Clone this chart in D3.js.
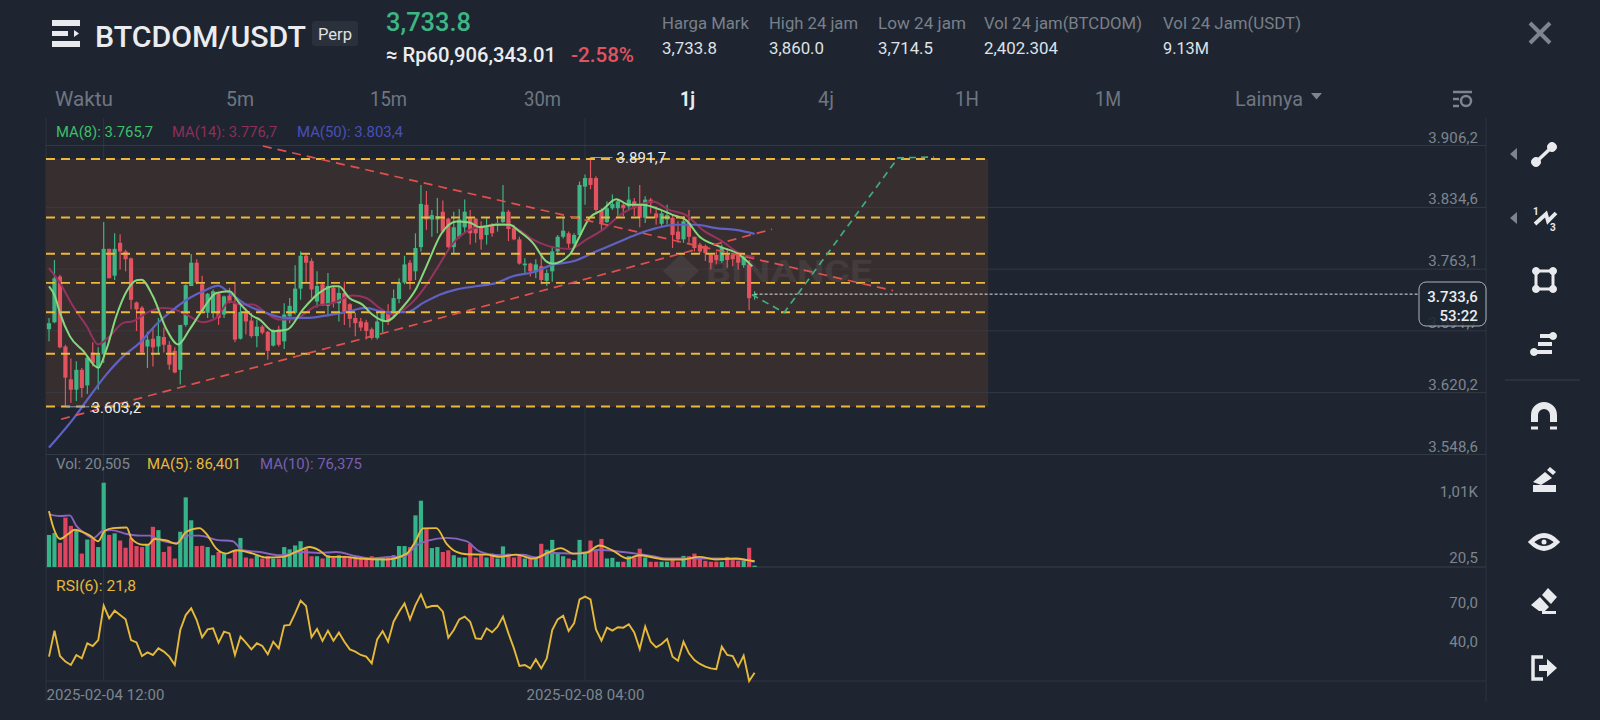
<!DOCTYPE html>
<html>
<head>
<meta charset="utf-8">
<title>BTCDOM/USDT</title>
<script src="https://cdn.jsdelivr.net/npm/d3@7"></script>
<style>
  html, body { margin: 0; padding: 0; background: #1e2530; overflow: hidden; }
  text { font-family: Roboto, "Noto Sans", sans-serif; }
  .domain { display: none; }
</style>
</head>
<body>
<div id="chart"></div>
<script>
// candles, hourly
var opens = [
  3693,3701,3754,3673,3635,3623,3646,3628,3666,3648,
  3664,3786,3755,3793,3783,3775,3724,3718,3673,3682,
  3673,3684,3675,3668,3646,3698,3743,3770,3745,3712,
  3712,3734,3710,3732,3723,3682,3712,3703,3685,3696,
  3690,3674,3693,3679,3708,3712,3740,3778,3772,3725,
  3745,3720,3741,3723,3735,3722,3706,3702,3701,3693,
  3683,3702,3712,3712,3728,3747,3770,3760,3788,3837,
  3820,3820,3829,3821,3788,3800,3811,3822,3821,3811,
  3802,3813,3813,3817,3829,3810,3797,3767,3769,3759,
  3766,3749,3760,3783,3800,3804,3792,3802,3858,3868,
  3868,3831,3817,3833,3833,3837,3835,3841,3837,3822,
  3843,3827,3815,3820,3822,3806,3797,3816,3800,3791,
  3789,3779,3779,3772,3779,3779,3779,3767,3768,3732];
var closes = [
  3700,3752,3672,3637,3623,3646,3625,3660,3654,3664,
  3786,3752,3786,3783,3774,3727,3716,3666,3681,3672,
  3685,3675,3652,3643,3698,3744,3770,3747,3714,3734,
  3737,3706,3731,3724,3681,3713,3702,3685,3696,3689,
  3668,3691,3675,3710,3720,3740,3778,3770,3739,3743,
  3720,3743,3723,3735,3712,3705,3700,3695,3691,3683,
  3702,3712,3702,3729,3747,3768,3749,3787,3838,3820,
  3825,3824,3806,3788,3811,3820,3829,3804,3804,3797,
  3811,3804,3816,3829,3809,3797,3769,3769,3760,3768,
  3750,3758,3783,3800,3807,3792,3802,3860,3868,3860,
  3831,3816,3833,3838,3841,3833,3843,3833,3822,3843,
  3839,3822,3827,3825,3802,3797,3818,3800,3787,3783,
  3781,3770,3773,3787,3773,3774,3770,3777,3729,3733.6];
var highs = [
  3706,3773,3756,3675,3659,3656,3648,3662,3678,3672,
  3817,3786,3804,3803,3785,3776,3725,3720,3690,3695,
  3706,3695,3679,3672,3698,3745,3780,3774,3755,3735,
  3739,3735,3732,3741,3748,3720,3717,3712,3704,3698,
  3691,3693,3697,3723,3729,3767,3783,3781,3775,3760,
  3747,3758,3743,3743,3748,3723,3712,3706,3704,3695,
  3712,3714,3722,3739,3752,3778,3773,3804,3860,3853,
  3831,3845,3842,3822,3829,3832,3843,3831,3822,3818,
  3822,3816,3824,3860,3831,3814,3800,3775,3770,3774,
  3779,3762,3789,3802,3822,3806,3804,3864,3872,3891.7,
  3870,3833,3841,3849,3843,3839,3858,3845,3860,3847,
  3845,3835,3831,3837,3825,3818,3824,3831,3800,3793,
  3791,3781,3783,3791,3787,3781,3781,3781,3773,3737];
var lows = [
  3679,3700,3671,3603.2,3608,3610,3614,3618,3650,3623,
  3654,3752,3750,3762,3760,3716,3691,3665,3648,3650,
  3665,3666,3646,3642,3629,3696,3743,3745,3712,3706,
  3706,3698,3706,3723,3678,3681,3687,3683,3672,3687,
  3658,3673,3673,3670,3700,3710,3727,3747,3729,3718,
  3720,3708,3718,3702,3698,3695,3685,3691,3681,3681,
  3681,3689,3698,3708,3723,3745,3739,3750,3783,3808,
  3800,3804,3804,3787,3781,3798,3804,3791,3793,3785,
  3791,3800,3806,3816,3795,3796,3768,3758,3754,3752,
  3745,3743,3748,3779,3798,3787,3787,3802,3837,3855,
  3829,3806,3816,3831,3822,3824,3831,3824,3811,3816,
  3827,3814,3812,3814,3787,3793,3793,3793,3783,3781,
  3772,3762,3768,3770,3764,3766,3762,3764,3715,3727];
var volumes = [
  476,505,359,733,611,539,199,408,432,296,
  1252,476,500,393,286,432,311,296,330,597,
  548,223,306,126,524,1034,694,311,315,296,
  175,223,199,126,248,432,141,126,175,126,
  160,126,126,296,262,320,383,272,160,160,
  126,175,141,175,150,150,126,126,141,160,
  141,141,141,175,311,311,296,767,985,563,
  281,296,223,248,175,141,141,345,141,175,
  141,199,126,306,199,141,175,126,126,126,
  345,257,403,199,160,126,102,403,199,393,
  238,417,126,136,78,78,160,141,272,141,
  78,78,78,78,102,78,165,160,199,126,
  92,78,78,78,150,102,92,92,286,20.5];
var rsi = [
  34.1,54.1,34.6,30.3,27.7,35.4,32.8,44.4,42.3,46.9,
  73.3,63.6,69.5,66.1,62.8,46.9,45.1,34.6,37.4,35.4,
  40.5,38,34.1,27.7,54.6,66.1,71.3,62.3,49,55.1,
  55.9,44.9,53.3,52,35.4,49.5,44.9,39.7,44.4,42.3,
  35.9,45.6,40.5,58,58.5,67.4,77.2,73.1,49,55.4,
  46.2,54.1,46.4,52.6,45.6,39.7,38,35.4,34.1,29,
  47.4,53.8,45.6,61,68.7,75.1,62.8,73.8,82,71.8,
  73.1,73.3,68.7,48.7,54.6,62.8,64.9,61,48.2,47.7,
  55.9,52.8,57.2,64.9,52,40.5,26.9,27.7,25.1,32,
  25.1,32.8,54.6,62.8,65.6,53.8,59.7,78.2,80.3,78.2,
  55.1,46.4,56.4,54.1,56.7,56.4,59,52.8,40,57.2,
  45.6,41.3,43.8,47.7,34.1,31,45.6,36.7,31.5,28.5,
  26.4,25.1,24.4,41.8,35.4,34.6,26.4,34.9,15.4,21.8];

// moving averages, read at the turning points: candle position, then value
var ma8Pos = [0,1.1,2,3.8,6.3,9,10.5,12.3,14.2,16,16.9,19,21.5,23.6,25.7,28.1,30.6,33,34.8,37.3,38.5,41,43.6,46.4,49.4,51.9,53,54.9,57.3,59.1,61.6,64.8,67.2,69,71.8,74.5,76.9,78.7,81.8,84.2,86,88.5,90.9,92.1,95.2,97,98.8,101.2,103.7,106.1,108.5,111,114,116.4,118.9,122.5,126.2,128.6];
var ma8Val = [3742.7,3731.1,3711.9,3685,3667.7,3648.4,3669.6,3708,3736.9,3749.6,3750.4,3731.1,3692.7,3675.4,3692.7,3715.7,3735,3736.9,3723.4,3708,3704.2,3690.7,3692.7,3715.7,3735,3742.7,3742.7,3729.2,3721.5,3710,3702.3,3719.6,3740.8,3765.8,3804.3,3817.7,3816.6,3811.2,3813.9,3813.9,3806.2,3792.7,3771.6,3768.9,3779.3,3800.4,3821.6,3831.2,3843.5,3837,3837,3833.1,3825.4,3819.7,3800.4,3788.9,3779.3,3765.7];
var ma14Pos = [0,2,4.4,6.9,9,10.8,13.6,15.4,17.8,20.9,22.7,25.1,28.1,30.6,33,34.8,37.3,39.7,42.1,44.6,48.8,51.9,55.5,58,60.4,62.8,66,68.4,70.8,73.9,76.9,80,83,85.4,88.5,91.5,95.2,98.2,101.2,104.9,108,110.4,113.4,116.4,119.5,123.1,126.2,129];
var ma14Val = [3763.8,3746.5,3719.6,3696.5,3675.4,3683,3700.4,3702.3,3711.9,3717.7,3716.5,3710,3701.1,3706.1,3725.4,3721.5,3721.5,3711.9,3704.2,3704.2,3719.6,3723.4,3731.9,3729.2,3717.7,3710,3721.6,3738.9,3762,3792.7,3808,3812.7,3815,3810,3796.6,3788.9,3785.8,3796.6,3808,3827.4,3837,3840.8,3831.2,3825.4,3808,3794.7,3781,3776.7];
var ma50Pos = [0,4.4,7.5,10.5,13.6,16.6,19.6,22.7,25.7,28.8,30.9,33,36,39.7,43.3,47,50.6,54.3,57.9,61.6,65.4,68.4,71.4,74.4,78,81.8,84.8,88.5,92.1,95.8,100,103.7,107.3,111,114.6,118.3,122,125.6,129];
var ma50Val = [3556,3589,3615.7,3640.7,3661.9,3677.3,3698.4,3715.7,3729.2,3738.8,3743.4,3735,3721.5,3711.9,3706.1,3706.1,3708.8,3712.7,3717.7,3712.7,3712.7,3723.5,3733,3738.9,3742.7,3746.6,3754.3,3758.9,3767.7,3771.6,3783,3792.7,3802.4,3810,3813.9,3813.9,3810,3808,3803.4];
var volMa5Pos = [0,0.8,2,3.5,4.7,6.3,7.5,9,10.2,11.7,14.2,15.1,17.2,18.1,19.3,21.5,23.3,25.1,27.5,28.8,30.6,32.4,34.2,37.3,39.7,42.7,45.8,47.6,49.4,51.2,54.3,56.7,61.6,65.4,66.9,68.4,70.8,72.7,74.5,76.3,80,82.4,85.4,88.5,91.5,93.6,95.8,98.2,100.6,103,105.8,107.9,110.4,112.8,115.8,118.9,121.9,125.6,127.7,129];
var volMa5Val = [830,587,417,490,553,514,466,383,539,578,587,417,330,330,417,393,345,524,578,490,272,199,248,199,141,150,248,296,248,150,150,126,112,199,369,573,578,345,223,189,184,150,184,126,223,281,199,209,320,248,126,175,141,112,112,150,112,126,102,86.4];
var volMa10Pos = [0,2,3.8,5,6.3,8.1,9.9,11.4,14.2,16.6,18.4,20.2,23.3,25.1,27.5,30.6,33.6,35.4,38.5,42.1,46.4,49.4,52.5,56.2,59.1,62.2,64.8,67.2,69.3,72.7,76.3,78.7,82.4,86.6,89.1,92.1,96.4,100.6,104.9,107.3,110.4,112.8,117,121.9,126.8,129];
var volMa10Val = [781,757,767,611,514,432,539,548,490,466,466,403,354,466,466,403,383,248,223,175,223,209,223,160,126,150,150,320,393,432,383,233,175,184,141,209,199,257,223,199,160,126,126,126,112,76.4];

// levels and drawings placed on the chart
var levelPrices = [3890, 3822.3, 3780.4, 3746.6, 3712.7, 3664.6, 3603.5];
var trendDown = [[39.1, 3905], [154.3, 3737.7]];
var trendUp = [[2.2, 3588.8], [132.2, 3808.7]];
var projection = [[128.5, 3733], [134.4, 3712.3], [155.2, 3891.2], [161.8, 3892.3]];
var levelBoxPos = [-0.5, 171.7];
var lastPrice = 3733.6;

// axis labels
var priceTicks = [3906.2, 3834.6, 3763.1, 3691.7, 3620.2, 3548.6];
var volTicks = [1010, 20.5];
var volTickLabels = ["1,01K", "20,5"];
var rsiTicks = [70, 40];
var timeTickPos = [10, 98];
var timeLabels = ["2025-02-04 12:00", "2025-02-08 04:00"];

var tabLabels = ["Waktu", "5m", "15m", "30m", "1j", "4j", "1H", "1M", "Lainnya"];
var tabX = [55, 226, 370, 524, 680, 818, 955, 1095, 1235];
var tabW = [58, 28, 37, 37, 15, 16, 24, 26, 68];
var statNames = ["Harga Mark", "High 24 jam", "Low 24 jam", "Vol 24 jam(BTCDOM)", "Vol 24 Jam(USDT)"];
var statNameW = [87, 89, 88, 158, 138];
var statValues = ["3,733.8", "3,860.0", "3,714.5", "2,402.304", "9.13M"];
var statValueW = [55, 55, 55, 74, 46];
var statX = [662, 769, 878, 984, 1163];

var width = 1600;
var height = 720;
var plotLeft = 46;
var plotRight = 1486;
var green = "#3db585";
var red = "#e2535f";
var gridColor = "#2d343f";
var labelColor = "#7d8590";
var iconColor = "#e8eaed";

var svg = d3.select("#chart")
  .append("svg")
  .attr("width", width)
  .attr("height", height)
  .style("display", "block");

svg.append("rect").attr("width", width).attr("height", height).attr("fill", "#1e2530");

var comma = d3.formatLocale({ decimal: ",", thousands: ".", grouping: [3], currency: ["", ""] }).format(",.1f");

// scales
var x = d3.scaleLinear().domain([0, 129]).range([49, 754.6]);
var y = d3.scaleLinear().domain([3906.2, 3548.6]).range([145, 454]);
var yVol = d3.scaleLinear().domain([0, 1010]).range([567, 499]);
var yRsi = d3.scaleLinear().domain([70, 40]).range([610, 649]);

function addText(tx, ty, str, size, color, weight, anchor, len) {
  var t = svg.append("text")
    .attr("x", tx).attr("y", ty)
    .attr("dy", "0.35em")
    .attr("font-size", size)
    .attr("fill", color)
    .attr("font-weight", weight || 400)
    .attr("text-anchor", anchor || "start")
    .text(str);
  if (len) t.attr("textLength", len).attr("lengthAdjust", "spacingAndGlyphs");
  return t;
}

// header
svg.append("g").attr("fill", iconColor).selectAll("path")
  .data(["M52 20h28v6H52z", "M52 31h16v5H52z", "M74 30l5 3.5-5 3.5z", "M52 41h28v6H52z"])
  .enter().append("path").attr("d", function(d) { return d; });
addText(95, 37, "BTCDOM/USDT", 29, "#eaecef", 500, "start", 211);
svg.append("rect").attr("x", 312).attr("y", 21).attr("width", 46).attr("height", 25).attr("rx", 3).attr("fill", "#2b313b");
addText(335, 34, "Perp", 17, "#dfe2e6", 400, "middle", 34);
addText(386, 22, "3,733.8", 26, green, 500, "start", 85);
addText(386, 55, "≈ Rp60,906,343.01", 21, "#eaecef", 500, "start", 170);
addText(571, 55, "-2.58%", 21, red, 500, "start", 63);

statNames.forEach(function(name, i) {
  addText(statX[i], 23, name, 17, "#79808a", 400, "start", statNameW[i]);
  addText(statX[i], 48, statValues[i], 16, "#dfe2e6", 400, "start", statValueW[i]);
});

// close icon
svg.append("path").attr("d", "M1530 23l20 20M1550 23l-20 20").attr("stroke", "#7d8590").attr("stroke-width", 4).attr("fill", "none");

tabLabels.forEach(function(name, i) {
  addText(tabX[i], 99, name, 20, i === 4 ? "#eaecef" : "#6f7681", i === 4 ? 700 : 400, "start", tabW[i]);
});
svg.append("path").attr("d", "M1311 93h11l-5.5 6.5z").attr("fill", "#7d8590");
svg.append("g").attr("stroke", "#7d8590").attr("stroke-width", 2.5).attr("fill", "none")
  .call(function(g) {
    g.append("path").attr("d", "M1453 92h19M1453 99h6M1453 106h6");
    g.append("circle").attr("cx", 1466).attr("cy", 101).attr("r", 5);
  });

// frame and grid
var frame = svg.append("g").attr("stroke", gridColor).attr("fill", "none");
frame.append("line").attr("x1", plotLeft).attr("x2", plotLeft).attr("y1", 118).attr("y2", 702);
frame.append("line").attr("x1", plotRight).attr("x2", plotRight).attr("y1", 118).attr("y2", 702);
frame.selectAll(".vgrid").data(timeTickPos).enter().append("line")
  .attr("class", "vgrid")
  .attr("x1", function(d) { return x(d); }).attr("x2", function(d) { return x(d); })
  .attr("y1", 118).attr("y2", 681);
frame.append("line").attr("x1", plotLeft).attr("x2", plotRight).attr("y1", 681).attr("y2", 681);

// box behind the levels
svg.append("rect")
  .attr("x", plotLeft)
  .attr("y", y(levelPrices[0]))
  .attr("width", x(levelBoxPos[1]) - plotLeft)
  .attr("height", y(levelPrices[6]) - y(levelPrices[0]))
  .attr("fill", "#372e2f");

function axisFont(g) {
  g.attr("font-size", 15)
    .attr("font-family", "Roboto")
    .attr("letter-spacing", 0.1)
    .attr("fill", labelColor);
}

// price axis
var yAxis = d3.axisRight(y)
  .tickValues(priceTicks)
  .tickSize(plotRight - plotLeft)
  .tickFormat(comma);
svg.append("g")
  .attr("transform", "translate(" + plotLeft + ",0)")
  .call(yAxis)
  .call(function(g) {
    g.selectAll("line").attr("stroke", "#3a4049").attr("stroke-opacity", 0.75);
    g.selectAll("text")
      .attr("x", plotRight - plotLeft - 8)
      .attr("dy", "-0.2em")
      .attr("text-anchor", "end")
      .call(axisFont);
  });

// lower panels
svg.append("line").attr("x1", plotLeft).attr("x2", plotRight).attr("y1", 567).attr("y2", 567).attr("stroke", "#3a4049");
function sideAxis(scale, ticks, fmt) {
  svg.append("g")
    .attr("transform", "translate(" + (plotRight - 8) + ",0)")
    .call(d3.axisLeft(scale).tickValues(ticks).tickSize(0).tickFormat(fmt))
    .call(function(g) {
      g.selectAll("text")
        .attr("x", 0)
        .attr("dy", "-0.2em")
        .attr("text-anchor", "end")
        .call(axisFont);
    });
}
sideAxis(yVol, volTicks, function(d, i) { return volTickLabels[i]; });
sideAxis(yRsi, rsiTicks, comma);

// time axis
svg.append("g")
  .attr("transform", "translate(0,681)")
  .call(d3.axisBottom(x).tickValues(timeTickPos).tickSize(0).tickFormat(function(d, i) { return timeLabels[i]; }))
  .call(function(g) {
    g.selectAll("text")
      .attr("y", 14)
      .attr("dy", "0.35em")
      .attr("textLength", 118)
      .attr("lengthAdjust", "spacingAndGlyphs")
      .call(axisFont);
    g.selectAll("text").filter(function(d, i) { return i === 0; })
      .attr("text-anchor", "start")
      .attr("x", plotLeft - x(timeTickPos[0]));
  });

svg.append("defs").append("clipPath").attr("id", "plotClip")
  .append("rect").attr("x", plotLeft).attr("y", 118).attr("width", plotRight - plotLeft).attr("height", 336);

var main = svg.append("g").attr("clip-path", "url(#plotClip)");

// watermark
var wm = main.append("g").attr("fill", "#ffffff").attr("opacity", 0.06);
wm.append("path").attr("d", "M681 254l18 17-18 17-18-17z");
wm.append("text").attr("x", 706).attr("y", 282).attr("font-size", 32).attr("font-weight", 700)
  .attr("textLength", 166).attr("lengthAdjust", "spacingAndGlyphs").text("BINANCE");

// candles
var idx = d3.range(closes.length);
var candle = main.append("g").selectAll("g").data(idx).enter().append("g");
function candleColor(i) { return closes[i] >= opens[i] ? green : red; }
candle.append("line")
  .attr("x1", function(i) { return x(i); })
  .attr("x2", function(i) { return x(i); })
  .attr("y1", function(i) { return y(highs[i]); })
  .attr("y2", function(i) { return y(lows[i]); })
  .attr("stroke", candleColor)
  .attr("stroke-width", 1.2);
candle.append("rect")
  .attr("x", function(i) { return x(i) - 2.1; })
  .attr("width", 4.2)
  .attr("y", function(i) { return y(Math.max(opens[i], closes[i])); })
  .attr("height", function(i) { return Math.max(1, Math.abs(y(opens[i]) - y(closes[i]))); })
  .attr("fill", candleColor);

// moving averages
function smooth(yScale) {
  return d3.line()
    .x(function(d) { return x(d[0]); })
    .y(function(d) { return yScale(d[1]); })
    .curve(d3.curveMonotoneX);
}
function addLine(parent, pos, val, scale, color, w) {
  parent.append("path")
    .attr("d", smooth(scale)(d3.zip(pos, val)))
    .attr("fill", "none")
    .attr("stroke", color)
    .attr("stroke-width", w);
}
addLine(main, ma14Pos, ma14Val, y, "#96325f", 2);
addLine(main, ma50Pos, ma50Val, y, "#5f62c4", 2.2);
addLine(main, ma8Pos, ma8Val, y, "#86d87c", 2);

// dashed levels
main.selectAll(".level").data(levelPrices).enter().append("line")
  .attr("class", "level")
  .attr("x1", plotLeft)
  .attr("x2", x(levelBoxPos[1]))
  .attr("y1", function(d) { return y(d); })
  .attr("y2", function(d) { return y(d); })
  .attr("stroke", "#eab83a")
  .attr("stroke-width", 1.9)
  .attr("stroke-dasharray", "9 6");

// trend lines and projection
var straight = d3.line().x(function(d) { return x(d[0]); }).y(function(d) { return y(d[1]); });
[trendDown, trendUp].forEach(function(t) {
  main.append("path").attr("d", straight(t)).attr("fill", "none")
    .attr("stroke", "#e0504f").attr("stroke-width", 1.7).attr("stroke-dasharray", "9 6");
});
main.append("path").attr("d", straight(projection)).attr("fill", "none")
  .attr("stroke", "#3fae7c").attr("stroke-width", 1.7).attr("stroke-dasharray", "7 5");

// high and low notes
main.append("line").attr("x1", x(99)).attr("x2", x(99) + 22).attr("y1", y(3891.7)).attr("y2", y(3891.7)).attr("stroke", "#9aa0a8");
addText(x(99) + 26, y(3891.7) + 0.5, comma(3891.7), 15, "#eaecef").attr("letter-spacing", 0.1);
main.append("line").attr("x1", x(3)).attr("x2", x(3) + 24).attr("y1", y(3603.2)).attr("y2", y(3603.2)).attr("stroke", "#9aa0a8");
addText(x(3) + 26, y(3603.2) + 0.5, comma(3603.2), 15, "#eaecef").attr("letter-spacing", 0.1);

// volume bars
svg.append("g").selectAll("rect").data(volumes).enter().append("rect")
  .attr("x", function(d, i) { return x(i) - 2.1; })
  .attr("width", 4.2)
  .attr("y", function(d) { return yVol(d); })
  .attr("height", function(d) { return yVol(0) - yVol(d); })
  .attr("fill", function(d, i) { return closes[i] >= opens[i] ? "#35b389" : "#e0455f"; });
addLine(svg, volMa10Pos, volMa10Val, yVol, "#8a63c0", 1.9);
addLine(svg, volMa5Pos, volMa5Val, yVol, "#e9b93c", 1.9);

// rsi
svg.append("path")
  .attr("d", d3.line().x(function(d, i) { return x(i); }).y(function(d) { return yRsi(d); })(rsi))
  .attr("fill", "none")
  .attr("stroke", "#e6b93a")
  .attr("stroke-width", 1.9);

// legends
addText(56, 132, "MA(8): 3.765,7", 15, "#3fbf6a", 400, "start", 97);
addText(172, 132, "MA(14): 3.776,7", 15, "#8c2f5a", 400, "start", 105);
addText(297, 132, "MA(50): 3.803,4", 15, "#4a4fb8", 400, "start", 106);
addText(56, 464, "Vol: 20,505", 15, "#7d8590", 400, "start", 74);
addText(147, 464, "MA(5): 86,401", 15, "#e9b93c", 400, "start", 94);
addText(260, 464, "MA(10): 76,375", 15, "#7a5fb0", 400, "start", 102);
addText(56, 586, "RSI(6): 21,8", 15, "#e6b93a", 400, "start", 80);

// last price line and tag
svg.append("line")
  .attr("x1", x(129)).attr("x2", 1419)
  .attr("y1", y(lastPrice)).attr("y2", y(lastPrice))
  .attr("stroke", "#dfe2e6").attr("stroke-dasharray", "3 2");
svg.append("rect").attr("x", 1419).attr("y", 282).attr("width", 67).attr("height", 44).attr("rx", 7)
  .attr("fill", "#1e2530").attr("fill-opacity", 0.88).attr("stroke", "#aeb3ba");
addText(1478, 297, comma(lastPrice), 15, "#eaecef", 500, "end").attr("letter-spacing", 0.1);
addText(1478, 316, "53:22", 15, "#eaecef", 500, "end").attr("letter-spacing", 0.1);

// drawing tools
var tools = svg.append("g").attr("fill", iconColor).attr("stroke", iconColor);
tools.append("path").attr("d", "M1536 162L1552 147").attr("stroke-width", 3.5);
tools.append("circle").attr("cx", 1536).attr("cy", 162).attr("r", 4.5);
tools.append("circle").attr("cx", 1552).attr("cy", 147).attr("r", 4.5);
tools.append("path").attr("d", "M1535 224l11-10 2 7 8-8").attr("fill", "none").attr("stroke-width", 3.8);
tools.append("text").attr("x", 1533).attr("y", 215).attr("font-size", 10).attr("font-weight", 700).attr("stroke", "none").text("1");
tools.append("text").attr("x", 1550).attr("y", 231).attr("font-size", 10).attr("font-weight", 700).attr("stroke", "none").text("3");
tools.append("rect").attr("x", 1536).attr("y", 271).attr("width", 17).attr("height", 18).attr("fill", "none").attr("stroke-width", 3);
[[1536, 271], [1553, 271], [1536, 289], [1553, 289]].forEach(function(c) {
  tools.append("circle").attr("cx", c[0]).attr("cy", c[1]).attr("r", 3.5);
});
tools.append("path").attr("d", "M1540 336h12M1538 344h14M1534 352h18").attr("stroke-width", 4);
tools.append("circle").attr("cx", 1553).attr("cy", 336).attr("r", 3.5);
tools.append("circle").attr("cx", 1534).attr("cy", 352).attr("r", 3.5);
tools.append("path").attr("d", "M1534.5 422v-7a9.5 9.5 0 0 1 19 0v7").attr("fill", "none").attr("stroke-width", 7);
tools.append("path").attr("d", "M1531 428h7M1550 428h7").attr("stroke-width", 3);
tools.append("path").attr("d", "M1533 485h23v7h-23zM1533 482l12-10 7 6-11 7zM1547 470l3-3 6 5-3 3z").attr("stroke", "none");
tools.append("path").attr("d", "M1531 542q13-13 26 0q-13 13-26 0z").attr("fill", "none").attr("stroke-width", 4.5);
tools.append("circle").attr("cx", 1544).attr("cy", 542).attr("r", 2.5).attr("stroke", "none");
tools.append("path").attr("d", "M1531 605l9-8 9 10-4 4h-6zM1542 595l6-7 9 9-6 7zM1542 611h14v3h-14z").attr("stroke", "none");
tools.append("path").attr("d", "M1543 657h-10v22h10").attr("fill", "none").attr("stroke-width", 3.5);
tools.append("path").attr("d", "M1539 665h8v-6l10 9-10 9v-6h-8z").attr("stroke", "none");
svg.append("path").attr("d", "M1510 154l7-6v12zM1510 218l7-6v12z").attr("fill", "#7d8590");
svg.append("line").attr("x1", 1505).attr("x2", 1580).attr("y1", 380).attr("y2", 380).attr("stroke", "#3a4049");
</script>
</body>
</html>
